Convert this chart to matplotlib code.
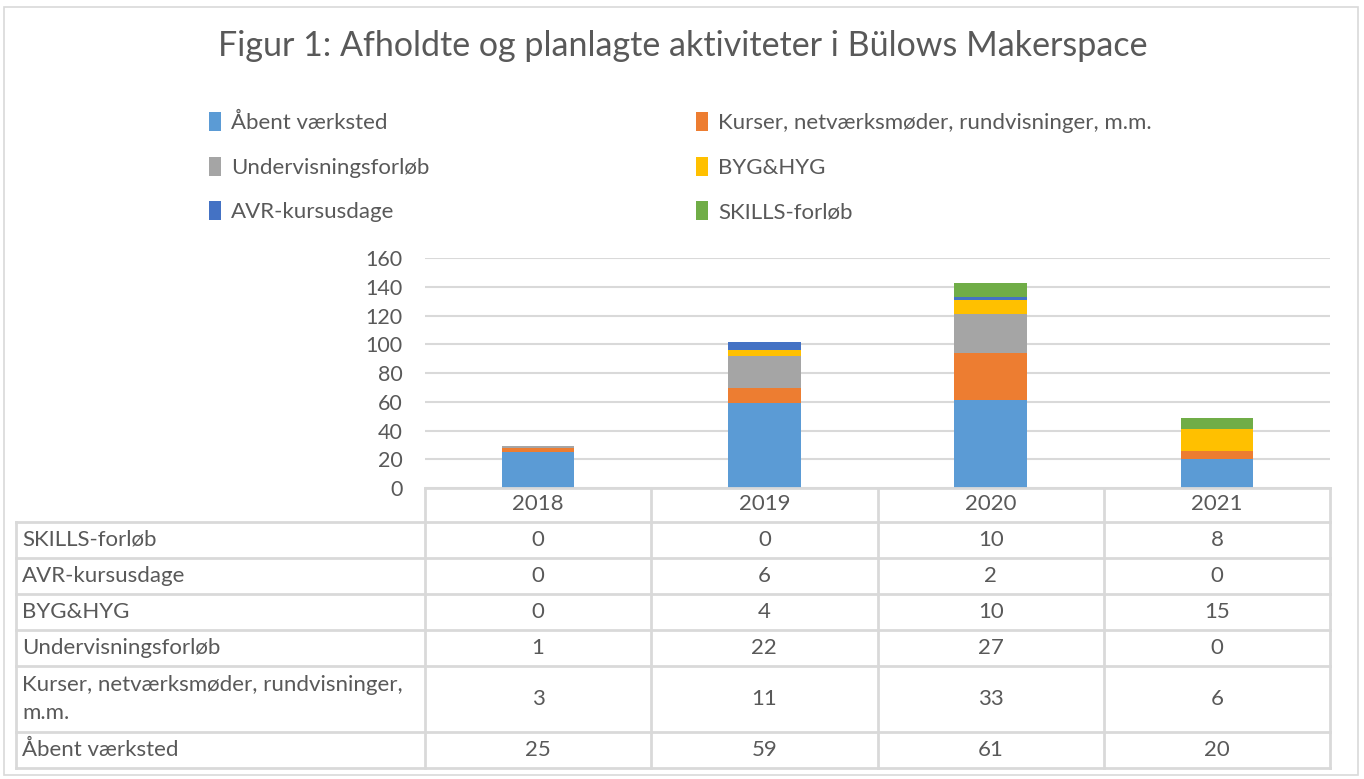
import matplotlib.pyplot as plt
from matplotlib.patches import Patch, Rectangle
from matplotlib.lines import Line2D
from matplotlib.transforms import blended_transform_factory

years = ['2018', '2019', '2020', '2021']
aabent = [25, 59, 61, 20]
kurser = [3, 11, 33, 6]
undervisning = [1, 22, 27, 0]
byg_hyg = [0, 4, 10, 15]
avr = [0, 6, 2, 0]
skills = [0, 0, 10, 8]

series_names = ['Åbent værksted', 'Kurser, netværksmøder, rundvisninger, m.m.',
                'Undervisningsforløb', 'BYG&HYG', 'AVR-kursusdage', 'SKILLS-forløb']
table_labels = ['Åbent værksted', 'Kurser, netværksmøder, rundvisninger,\nm.m.',
                'Undervisningsforløb', 'BYG&HYG', 'AVR-kursusdage', 'SKILLS-forløb']
series_values = [aabent, kurser, undervisning, byg_hyg, avr, skills]
colors = ['#5B9BD5', '#ED7D31', '#A5A5A5', '#FFC000', '#4472C4', '#70AD47']

plt.rcParams['font.family'] = ['Lato', 'DejaVu Sans']
TXT = '#595959'
GRID = '#D9D9D9'
W, H = 1364, 779
FS = 16


def fy(y):
    # pixel row (from top) -> figure fraction
    return 1 - y / H


fig = plt.figure(figsize=(W / 100, H / 100), dpi=100)
fig.patch.set_facecolor('white')

# outer chart border
fig.add_artist(Rectangle((4 / W, fy(775)), 1354 / W, 768 / H, transform=fig.transFigure,
                         fill=False, edgecolor=GRID, linewidth=1.2))

fig.text(683 / W, fy(46), 'Figur 1: Afholdte og planlagte aktiviteter i Bülows Makerspace',
         ha='center', va='center', fontsize=24.5, color=TXT)

# plot area
ax = fig.add_axes([425 / W, fy(488), 905 / W, 229.7 / H])
x = list(range(len(years)))
bottom = [0] * len(years)
handles = []
for name, vals, col in zip(series_names, series_values, colors):
    ax.bar(x, vals, width=0.32, bottom=bottom, color=col, zorder=3)
    bottom = [b + v for b, v in zip(bottom, vals)]
    handles.append(Patch(facecolor=col, label=name))

ax.set_xlim(-0.5, len(years) - 0.5)
ax.set_ylim(0, 160)
ax.set_yticks(range(0, 161, 20))
ax.yaxis.grid(True, color=GRID, linewidth=1.5, zorder=0)
ax.set_xticks([])
ax.tick_params(axis='y', length=0, pad=16, labelsize=15.5, labelcolor=TXT)
for s in ax.spines.values():
    s.set_visible(False)

# legend, two columns placed separately
leg_kw = dict(frameon=False, fontsize=FS, labelcolor=TXT, handlelength=0.55, handleheight=0.95,
              handletextpad=0.45, labelspacing=1.05, borderaxespad=0, borderpad=0)
fig.legend(handles=handles[0::2], loc='upper left', bbox_to_anchor=(209 / W, fy(112)), **leg_kw)
fig.legend(handles=handles[1::2], loc='upper left', bbox_to_anchor=(696 / W, fy(112)), **leg_kw)

# data table under the chart
tr = blended_transform_factory(ax.transData, fig.transFigure)
row_edges = [522, 558, 594, 630, 666, 732, 768]
col_edges = [c - 0.5 for c in range(len(years) + 1)]

fig.add_artist(Line2D([col_edges[0], col_edges[-1]], [fy(488), fy(488)], transform=tr,
                      color=GRID, linewidth=2))
for ye in row_edges:
    fig.add_artist(Line2D([16 / W, 1330 / W], [fy(ye), fy(ye)], transform=fig.transFigure,
                          color=GRID, linewidth=2))
fig.add_artist(Line2D([16 / W, 16 / W], [fy(522), fy(768)], transform=fig.transFigure,
                      color=GRID, linewidth=2))
for xe in col_edges:
    fig.add_artist(Line2D([xe, xe], [fy(488), fy(768)], transform=tr, color=GRID, linewidth=2))

for i, yr in enumerate(years):
    fig.text(i, fy(504), yr, transform=tr, ha='center', va='center', fontsize=FS, color=TXT)

# table rows go top-down in reverse stacking order
order = list(range(len(series_names)))[::-1]
for r, idx in enumerate(order):
    yc = fy((row_edges[r] + row_edges[r + 1]) / 2)
    fig.text(22 / W, yc, table_labels[idx], ha='left', va='center', fontsize=FS,
             color=TXT, linespacing=1.45)
    for i, v in enumerate(series_values[idx]):
        fig.text(i, yc, str(v), transform=tr, ha='center', va='center', fontsize=FS, color=TXT)

fig.savefig('out.png', dpi=100)
